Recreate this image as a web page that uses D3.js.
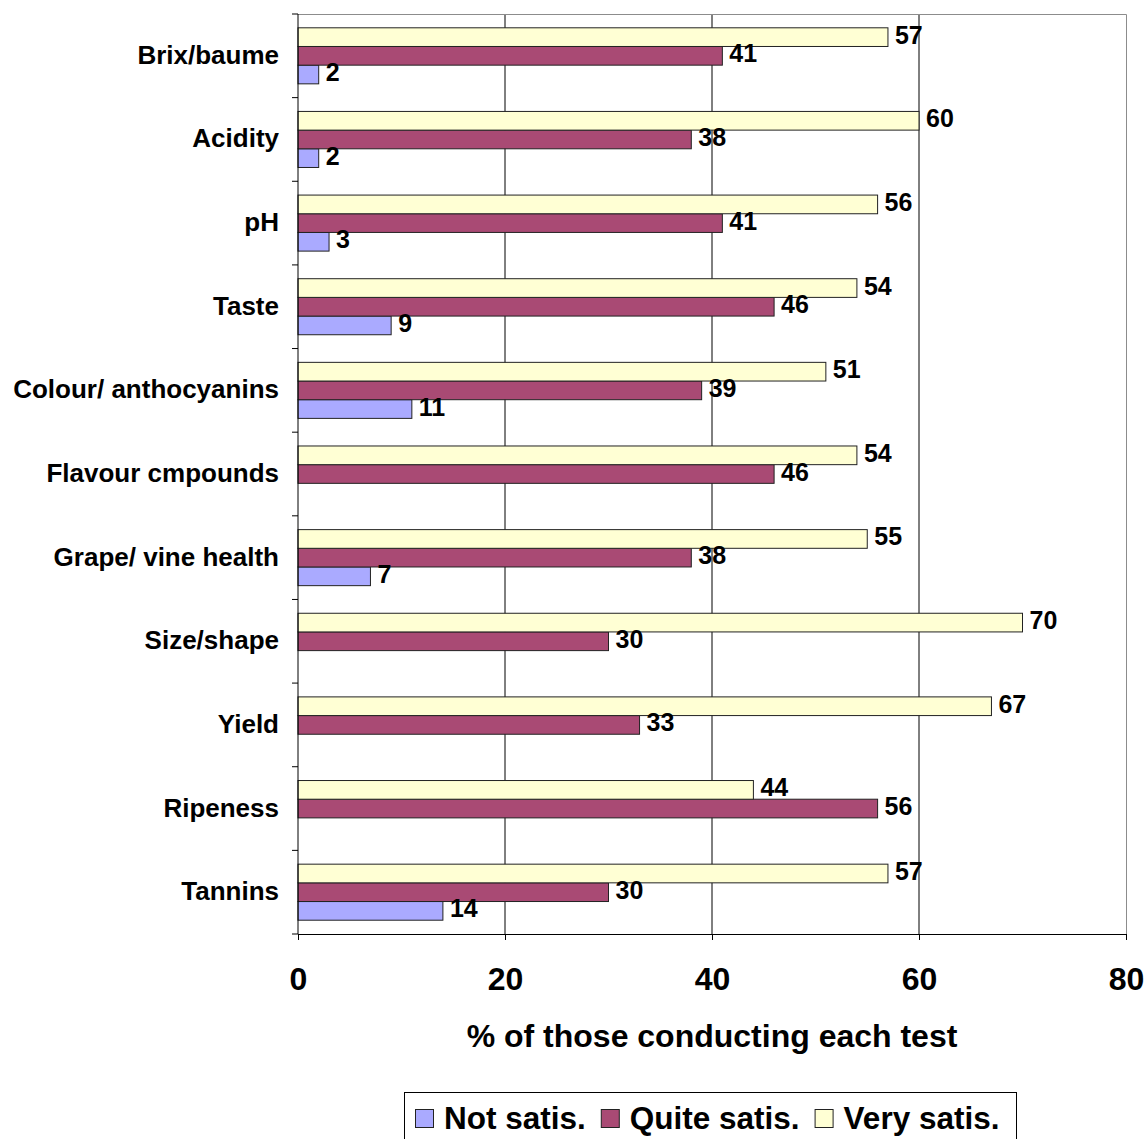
<!DOCTYPE html>
<html>
<head>
<meta charset="utf-8">
<script src="https://cdn.jsdelivr.net/npm/d3@7/dist/d3.min.js"></script>
<style>
  html, body { margin: 0; padding: 0; background: #fff; }
  svg { display: block; }
  text { font-family: "Liberation Sans", Arial, Helvetica, sans-serif; font-weight: bold; fill: #000; }
</style>
</head>
<body>
<svg id="chart" width="1146" height="1139"></svg>
<script>
// Tests grape growers run, and how satisfied they are with each (% of those conducting the test)
const categories = ["Brix/baume", "Acidity", "pH", "Taste", "Colour/ anthocyanins",
  "Flavour cmpounds", "Grape/ vine health", "Size/shape", "Yield", "Ripeness", "Tannins"];
const notSatis   = [2, 2, 3, 9, 11, null, 7, null, null, null, 14];
const quiteSatis = [41, 38, 41, 46, 39, 46, 38, 30, 33, 56, 30];
const verySatis  = [57, 60, 56, 54, 51, 54, 55, 70, 67, 44, 57];
const seriesNames = ["Not satis.", "Quite satis.", "Very satis."];
const xTicks = [0, 20, 40, 60, 80];
const axisTitle = "% of those conducting each test";

const colors = { "Not satis.": "#AAAAFF", "Quite satis.": "#A94A74", "Very satis.": "#FFFFD4" };
const seriesValues = { "Not satis.": notSatis, "Quite satis.": quiteSatis, "Very satis.": verySatis };

const svg = d3.select("#chart");
const plotLeft = 298, plotRight = 1126, plotTop = 14, plotBottom = 934;

const x = d3.scaleLinear().domain([0, 80]).range([plotLeft, plotRight]);
const y = d3.scaleBand().domain(categories).range([plotTop, plotBottom])
  .paddingInner(0.33).paddingOuter(0.165);
// within a category the bars run Very (top), Quite, Not (bottom)
const sub = d3.scaleBand().domain(["Very satis.", "Quite satis.", "Not satis."])
  .range([0, y.bandwidth()]);
const step = y.step();

// vertical gridlines
svg.append("g").selectAll("line").data(xTicks.filter(t => t > 0 && t < 80)).join("line")
  .attr("x1", d => x(d)).attr("x2", d => x(d))
  .attr("y1", plotTop).attr("y2", plotBottom)
  .attr("stroke", "#000").attr("stroke-width", 1);

// plot frame (top and right)
svg.append("path")
  .attr("d", `M${plotLeft},${plotTop + 0.5}H${plotRight + 0.5}V${plotBottom}`)
  .attr("fill", "none").attr("stroke", "#8c8c8c").attr("stroke-width", 1);

// bars
const rows = [];
categories.forEach((c, i) => {
  seriesNames.forEach(s => {
    const v = seriesValues[s][i];
    if (v != null) rows.push({ cat: c, series: s, value: v });
  });
});

const barG = svg.append("g");
barG.selectAll("rect").data(rows).join("rect")
  .attr("x", x(0))
  .attr("y", d => y(d.cat) + sub(d.series))
  .attr("width", d => x(d.value) - x(0))
  .attr("height", sub.bandwidth())
  .attr("fill", d => colors[d.series])
  .attr("stroke", "#222").attr("stroke-width", 1);

// value labels
barG.selectAll("text").data(rows).join("text")
  .attr("x", d => x(d.value) + 7)
  .attr("y", d => y(d.cat) + sub(d.series) + sub.bandwidth() / 2 + 6.5)
  .attr("font-size", 25)
  .text(d => d.value);

// y axis line and ticks at category boundaries
svg.append("line").attr("x1", plotLeft).attr("x2", plotLeft).attr("y1", plotTop).attr("y2", plotBottom)
  .attr("stroke", "#000");
svg.append("g").selectAll("line").data(d3.range(categories.length + 1)).join("line")
  .attr("x1", plotLeft - 6).attr("x2", plotLeft)
  .attr("y1", i => plotTop + i * step).attr("y2", i => plotTop + i * step)
  .attr("stroke", "#000");

// category labels
svg.append("g").selectAll("text").data(categories).join("text")
  .attr("x", 279)
  .attr("y", (c, i) => plotTop + (i + 0.5) * step + 8)
  .attr("text-anchor", "end")
  .attr("font-size", 26)
  .text(c => c);

// x axis
const xAxis = svg.append("g").attr("transform", `translate(0,${plotBottom})`)
  .call(d3.axisBottom(x).tickValues(xTicks).tickSize(6).tickSizeOuter(0));
xAxis.select(".domain").attr("stroke", "#000");
xAxis.selectAll(".tick line").attr("stroke", "#000");
xAxis.selectAll(".tick text")
  .attr("font-size", 32)
  .attr("font-family", "\"Liberation Sans\", Arial, sans-serif")
  .attr("font-weight", "bold")
  .attr("fill", "#000")
  .attr("y", 56)
  .attr("dy", "0");

// axis title
svg.append("text")
  .attr("x", (plotLeft + plotRight) / 2).attr("y", 1047)
  .attr("text-anchor", "middle")
  .attr("font-size", 32)
  .text(axisTitle);

// legend
const legend = svg.append("g");
legend.append("rect")
  .attr("x", 404.5).attr("y", 1092.5).attr("width", 612).attr("height", 60)
  .attr("fill", "#fff").attr("stroke", "#000").attr("stroke-width", 1);
let lx = 415;
seriesNames.forEach(s => {
  legend.append("rect")
    .attr("x", lx + 0.5).attr("y", 1109.5).attr("width", 18).attr("height", 18)
    .attr("fill", colors[s]).attr("stroke", "#222");
  const t = legend.append("text")
    .attr("x", lx + 29).attr("y", 1129)
    .attr("font-size", 31.5)
    .text(s);
  lx += 29 + t.node().getComputedTextLength() + 15;
});
</script>
</body>
</html>
